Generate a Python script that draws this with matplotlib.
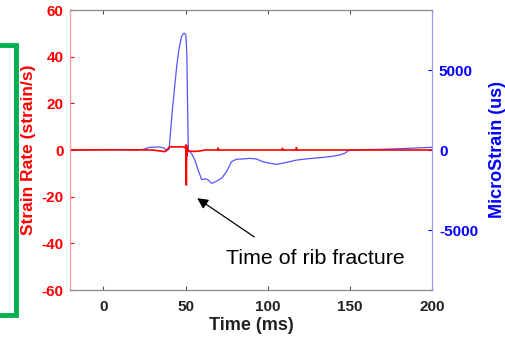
import matplotlib
matplotlib.use("Agg")
import matplotlib.pyplot as plt
from matplotlib.patches import Rectangle

plt.rcParams['font.family'] = ['Liberation Sans', 'DejaVu Sans']

# Strain rate (left axis, red)
red_t = [-20, 10, 30, 37.5, 40.5, 44, 48, 49.5, 50.2, 50.5, 50.7, 50.9, 51.2, 51.6, 53, 56, 58.7, 62, 69.6, 69.9, 70.2, 90,
         108.7, 109, 109.3, 117.2, 117.5, 117.8, 150, 200]
red_v = [0, 0.1, 0, -0.7, 1.4, 1.3, 1.4, 1.0, 2.1, -15, 2.0, -2.5, 0.5, -0.6, -0.5, -0.6, -0.4, 0, 0, 0.8, 0, 0,
         0, 0.7, 0, 0, 1.0, 0, 0, 0]

# MicroStrain (right axis, blue)
blue_t = [-20, 0, 20, 24, 28, 34, 37, 38.5, 40, 42, 44.6, 46, 47.6, 48.5, 49.2, 50.2, 50.8, 51.3, 51.7,
          53.5, 55.7, 57.5, 59.8, 62, 63.5, 65.8, 67, 69, 71.9, 75, 78, 81, 85, 89, 93, 97, 101, 105.3,
          109, 113.4, 117, 121.5, 127, 133.7, 139, 143.8, 147, 149, 155, 168, 185, 200]
blue_v = [0, 20, 0, 30, 170, 190, 120, -60, 50, 2500, 5200, 6300, 7080, 7250, 7300, 7190, 6000, 2500, 0,
          -200, -625, -1200, -1850, -1800, -1850, -2080, -2050, -1940, -1770, -1350, -730, -580, -560, -520,
          -560, -730, -820, -900, -830, -730, -640, -580, -520, -460, -400, -310, -200, -40, 20, 40, 100, 170]

x_ticks = [0, 50, 100, 150, 200]
left_ticks = [-60, -40, -20, 0, 20, 40, 60]
right_ticks = [-5000, 0, 5000]

fig = plt.figure(figsize=(5.06, 3.46), dpi=100)
ax = fig.add_axes([70.5/506, 56/346, (432-70.5)/506, 280/346])
ax2 = ax.twinx()

ax2.plot(blue_t, blue_v, color='#5555ff', lw=0.9)
ax.plot(red_t, red_v, color='#ff0000', lw=1.2)

ax.set_zorder(ax2.get_zorder() + 1)
ax.patch.set_visible(False)

ax.set_xlim(-20, 200)
ax.set_ylim(-60, 60)
ax2.set_ylim(-8750, 8750)
ax.set_xticks(x_ticks)
ax.set_yticks(left_ticks)
ax2.set_yticks(right_ticks)

tick_font = dict(fontsize=11, fontweight='bold')
ax.set_xticklabels([str(v) for v in x_ticks], **tick_font, color='#222222')
ax.set_yticklabels([str(v) for v in left_ticks], **tick_font, color='#ff0000')
ax2.set_yticklabels([str(v) for v in right_ticks], **tick_font, color='#0000ff')

ax.tick_params(axis='x', direction='in', length=3, top=True, color='#555555', pad=7)
ax.tick_params(axis='y', direction='in', length=3, color='#ff0000', pad=5)
ax2.tick_params(axis='y', direction='in', length=3, color='#0000ff', pad=5)

for a in (ax, ax2):
    a.spines['top'].set_color('#888888')
    a.spines['bottom'].set_color('#888888')
    a.spines['left'].set_color('#ff9999')
    a.spines['right'].set_color('#9999ff')

ax.set_xlabel('Time (ms)', fontsize=13, fontweight='bold', color='#222222', labelpad=2)
ax.set_ylabel('Strain Rate (strain/s)', fontsize=12.5, fontweight='bold', color='#ff0000', labelpad=4)
ax2.set_ylabel('MicroStrain (us)', fontsize=13, fontweight='bold', color='#0000ff', labelpad=8)

ax.annotate('', xy=(55.7, -20), xytext=(93.2, -37.9),
            arrowprops=dict(arrowstyle='-|>', color='black', lw=0.9, mutation_scale=16))
ax.text(74.5, -46.3, 'Time of rib fracture', fontsize=15.4, ha='left', va='center', color='black')

fig.patches.append(Rectangle((-10/506, (346-315)/346), 26/506, 270/346, transform=fig.transFigure,
                             fill=False, edgecolor='#00b050', lw=3.5))

fig.savefig('out.png', dpi=100)
